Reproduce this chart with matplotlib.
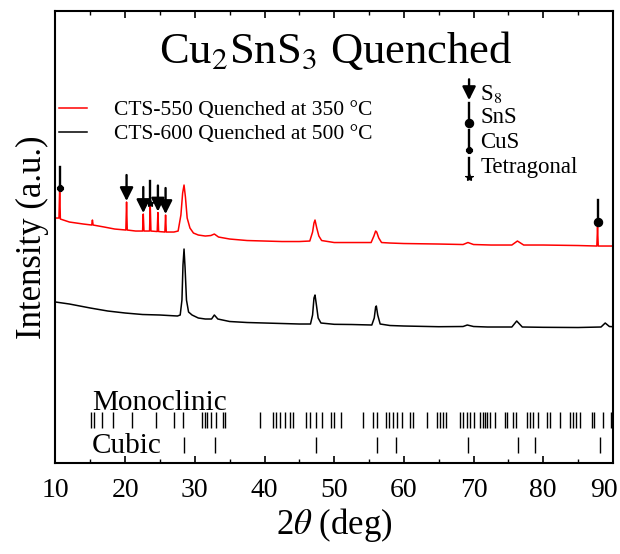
#!/usr/bin/env python3
# coding: utf-8

"""
XRD patterns of quenched Cu2SnS3 films with secondary phase markers
and reference reflection ticks (monoclinic / cubic).
"""

import matplotlib
matplotlib.use("Agg")
import matplotlib.pyplot as plt
import matplotlib.transforms as mtransforms
import numpy as np

# plot parameters
plt.rcParams["font.family"] = ["Liberation Serif", "DejaVu Serif"]
plt.rcParams["mathtext.fontset"] = "stix"

SIZE = (6.2, 5.54)
DPI = 100

# CTS-550, quenched at 350 C (2theta in deg, intensity in a.u.)
TT_550 = [10.0, 10.5, 10.6, 10.7, 12.0, 14.0, 15.2, 15.3, 15.4, 17.0, 18.5,
          20.1, 20.2, 20.3, 21.5, 22.5, 22.6, 22.7, 23.5, 23.6, 23.7, 24.6,
          24.7, 24.8, 25.7, 25.8, 25.9, 27.0, 27.6, 28.0, 28.25, 28.45,
          28.65, 28.9, 29.3, 29.8, 30.5, 31.5, 32.3, 32.8, 33.4, 35.0, 37.5,
          40.0, 42.5, 45.0, 46.5, 46.9, 47.1, 47.25, 47.5, 47.8, 48.2, 50.0,
          52.5, 55.3, 55.7, 55.95, 56.1, 56.4, 56.8, 58.0, 60.0, 65.0, 68.5,
          69.2, 70.0, 72.5, 75.5, 76.3, 77.2, 80.0, 85.0, 87.7, 87.8, 87.9,
          90.0]
INT_550 = [245, 245, 275, 244, 241, 239, 238, 243, 238, 236, 234,
           233, 261, 233, 232, 232, 249, 232, 232, 258, 232, 231.5,
           250.5, 231.5, 231, 248, 231, 231, 232, 248, 270, 278,
           266, 245, 235, 230, 228, 227, 227.5, 229, 226, 224, 222.5,
           222, 221.5, 221.5, 222, 231, 240, 243, 235, 227, 222.5, 220.5,
           220.5, 220.5, 227, 232, 231, 225, 220.5, 220, 219.5, 219, 218.5,
           220.5, 218.5, 218, 218, 222, 218, 218, 217.5, 217, 236, 217,
           217]

# CTS-600, quenched at 500 C
TT_600 = [10.0, 12.0, 15.0, 17.5, 20.0, 22.5, 25.0, 27.5, 27.9, 28.15, 28.3,
          28.45, 28.6, 28.8, 29.1, 29.6, 30.5, 31.5, 32.4, 32.8, 33.3, 35.0,
          37.5, 40.0, 42.5, 45.0, 46.6, 46.9, 47.1, 47.25, 47.45, 47.7, 48.1,
          50.0, 52.5, 55.4, 55.75, 55.95, 56.05, 56.25, 56.6, 58.0, 60.0,
          65.0, 68.5, 69.1, 70.0, 72.0, 75.5, 76.2, 77.0, 80.0, 85.0, 88.3,
          88.9, 89.5, 90.0]
INT_600 = [161, 159, 155, 152, 150, 148.5, 148, 147, 148, 163, 198,
           214, 195, 163, 151, 148, 145, 144, 144, 148, 144, 141.5,
           140.5, 140, 139.5, 139, 139, 148, 165, 168, 158, 145, 140,
           138.7, 138.5, 138, 145, 156, 157, 148, 139, 137.5, 137,
           136.3, 136.5, 138, 136.5, 136, 136, 142, 136, 135.7, 135.5, 136,
           140, 136.5, 136.3]

LABEL_550 = "CTS-550 Quenched at 350 °C"
LABEL_600 = "CTS-600 Quenched at 500 °C"

# secondary phase peaks on the CTS-550 pattern
S8_POS = [20.2, 22.6, 24.7, 25.8]
TET_POS = [23.6]
CUS_POS = [10.6]
SNS_POS = [87.8]

# reference reflections
MONOCLINIC = [15.15, 15.5, 16.7, 18.3, 21.0, 24.4, 27.05, 28.35, 31.0, 31.4,
              31.8, 32.3, 33.0, 34.0, 34.4, 39.3, 41.2, 41.7, 42.2, 42.9,
              43.6, 44.1, 46.0, 46.6, 47.4, 48.2, 49.5, 50.0, 51.0, 54.15,
              55.6, 56.1, 57.5, 57.9, 58.4, 58.95, 59.7, 60.9, 61.3, 63.3,
              64.7, 65.2, 65.65, 66.1, 68.06, 68.5, 69.0, 69.5, 70.0, 70.9,
              71.3, 71.65, 72.0, 72.4, 73.1, 74.5, 74.8, 75.7, 76.1, 77.7,
              78.1, 78.6, 79.3, 80.5, 81.0, 82.4, 83.9, 84.3, 84.75, 85.3,
              87.0, 87.3, 88.6, 89.7]
CUBIC = [28.45, 32.96, 47.33, 56.16, 58.9, 69.2, 76.45, 78.8, 88.2]

STEM = 24      # length of the marker stems (a.u.)
FS_TICK = 20
FS_LABEL = 25


def peak_height(pos, tt=TT_550, inten=INT_550):
    """ return the top of the spike closest to pos """
    tt = np.asarray(tt)
    inten = np.asarray(inten)
    sel = np.abs(tt - pos) < 0.15
    return inten[sel].max()


def draw_arrow(ax, x, y_head, length, coords="data"):
    """ downward arrow whose head ends at y_head """
    ax.annotate("", xy=(x, y_head), xytext=(x, y_head + length),
                xycoords=coords, textcoords=coords,
                arrowprops=dict(arrowstyle="-|>,head_width=0.4,head_length=0.8",
                                color="black", lw=1.7, shrinkA=0, shrinkB=0))


def draw_stem(ax, x, y_marker, length, marker, ms, transform=None):
    """ vertical stem ending on a marker """
    kw = {}
    if transform is not None:
        kw = dict(transform=transform)
    ax.plot([x, x], [y_marker, y_marker + length], color="black", lw=1.7, **kw)
    ax.plot([x], [y_marker], marker=marker, color="black", ms=ms,
            markeredgewidth=0.8, **kw)


fig = plt.figure(figsize=SIZE, dpi=DPI)
ax = fig.add_axes([0.0895, 0.1643, 0.9885 - 0.0895, 0.980 - 0.1643])

ax.plot(TT_550, INT_550, color="red", lw=1.1, label=LABEL_550)
ax.plot(TT_600, INT_600, color="black", lw=1.1, label=LABEL_600)

# phase markers above the spikes
for p in S8_POS:
    draw_arrow(ax, p, peak_height(p) + 1, STEM + 2)
for p in TET_POS:
    draw_stem(ax, p, peak_height(p) + 2, STEM - 2, "*", 6)
for p in CUS_POS:
    draw_stem(ax, p, peak_height(p), STEM - 3, "8", 5)
for p in SNS_POS:
    draw_stem(ax, p, peak_height(p) + 5, STEM - 2, "o", 6)

# reference reflections
ax.vlines(MONOCLINIC, 35, 51, color="black", lw=1.0)
ax.vlines(CUBIC, 10, 26, color="black", lw=1.0)
ax.text(15.2, 47, "Monoclinic", fontsize=21, va="bottom", ha="left")
ax.text(15.2, 17, "Cubic", fontsize=21, va="center", ha="left")

# marker key
tr = ax.transAxes
kx = 0.742
draw_arrow(ax, kx, 0.803, 0.046, coords="axes fraction")
draw_stem(ax, kx, 0.752, 0.044, "o", 6, transform=tr)
draw_stem(ax, kx, 0.692, 0.045, "8", 5, transform=tr)
draw_stem(ax, kx, 0.633, 0.042, "*", 6, transform=tr)
for label, yk in [("S$_8$", 0.816), ("SnS", 0.765), ("CuS", 0.710),
                  ("Tetragonal", 0.653)]:
    ax.text(kx + 0.02, yk, label, fontsize=16.5, va="center", ha="left",
            transform=tr)

ax.text(0.502, 0.885, "Cu$_2$SnS$_3$ Quenched", fontsize=32, ha="center",
        va="baseline", transform=tr)

ax.legend(loc="upper left", bbox_to_anchor=(-0.028, 0.846), frameon=False,
          fontsize=15.5, handlelength=1.3, handletextpad=1.25,
          labelspacing=0.2)

ax.set_xlim(10, 90)
ax.set_ylim(0, 452)
ax.set_xticks(np.arange(10, 91, 10))
ax.set_xticks(np.arange(15, 90, 10), minor=True)
ax.set_yticks([])
ax.tick_params(axis="x", which="both", direction="in", top=True,
               labelsize=FS_TICK, pad=11)
ax.tick_params(axis="x", which="major", length=5, width=1.2)
ax.tick_params(axis="x", which="minor", length=3, width=1.0)
for sp in ax.spines.values():
    sp.set_linewidth(1.5)

# keep the last tick label inside the figure
last = ax.get_xticklabels()[-1]
last.set_transform(last.get_transform() +
                   mtransforms.ScaledTranslation(-9 / DPI, 0, fig.dpi_scale_trans))

ax.set_xlabel(r"2$\theta$ (deg)", fontsize=FS_LABEL, labelpad=2)
ax.set_ylabel("Intensity (a.u.)", fontsize=FS_LABEL, labelpad=5)

plt.savefig("out.png", dpi=DPI)
